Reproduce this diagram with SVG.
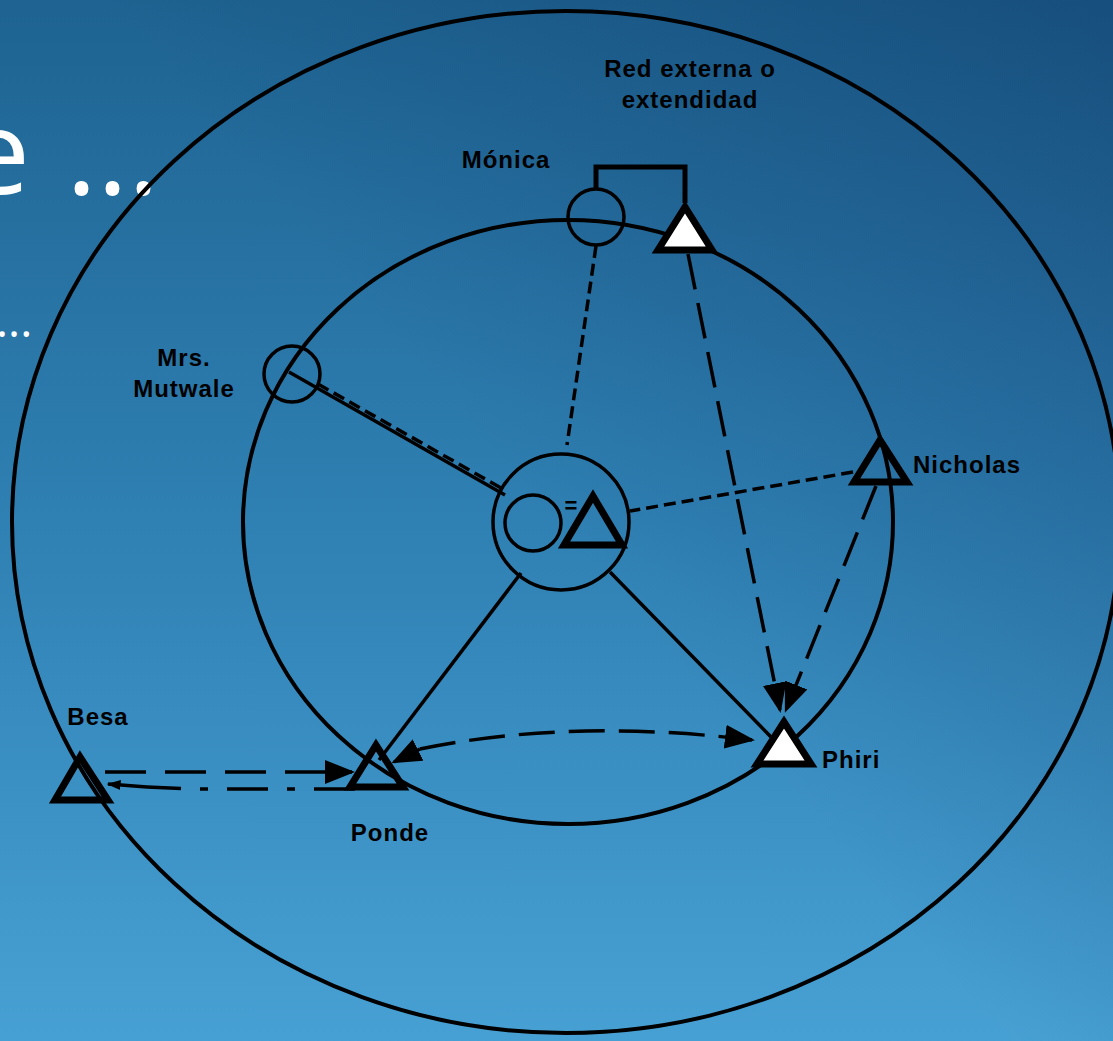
<svg xmlns="http://www.w3.org/2000/svg" width="1113" height="1041" viewBox="0 0 1113 1041">
<defs>
<linearGradient id="bg" x1="0" y1="0" x2="0" y2="1">
<stop offset="0" stop-color="#1e6391"/>
<stop offset="0.5" stop-color="#2f80b3"/>
<stop offset="1" stop-color="#47a0d3"/>
</linearGradient>
<linearGradient id="bg2" x1="0.45" y1="0.45" x2="1" y2="0">
<stop offset="0" stop-color="#0a2a5a" stop-opacity="0"/>
<stop offset="1" stop-color="#0a2a5a" stop-opacity="0.35"/>
</linearGradient>
<marker id="arrL" viewBox="0 0 10 10" refX="9" refY="5" markerWidth="30" markerHeight="24" markerUnits="userSpaceOnUse" orient="auto" preserveAspectRatio="none">
<path d="M0,0 L10,5 L0,10 z" fill="#000"/>
</marker>
<marker id="arrS" viewBox="0 0 10 10" refX="9" refY="5" markerWidth="14" markerHeight="10" markerUnits="userSpaceOnUse" orient="auto" preserveAspectRatio="none">
<path d="M0,0 L10,5 L0,10 z" fill="#000"/>
</marker>
</defs>
<style>
.ring{fill:none;stroke:#000;stroke-width:4}
.circ{fill:none;stroke:#000;stroke-width:3.5}
.tri{fill:none;stroke:#000;stroke-width:7;stroke-linejoin:miter}
.triw{fill:#fff;stroke:#000;stroke-width:7;stroke-linejoin:miter}
.lbl{font-family:"Liberation Sans",Arial,sans-serif;font-weight:bold;font-size:24px;letter-spacing:1px;fill:#000}
.solid{fill:none;stroke:#000;stroke-width:3.5}
.dash{fill:none;stroke:#000;stroke-width:3.5;stroke-dasharray:12 6}
.long{fill:none;stroke:#000;stroke-width:3.5;stroke-dasharray:36 14}
.bgtxt{font-family:"Open Sans","Noto Sans",sans-serif;fill:#fff}
</style>
<rect width="1113" height="1041" fill="url(#bg)"/>
<rect width="1113" height="1041" fill="url(#bg2)"/>
<text class="bgtxt" x="30" y="194" font-size="118" text-anchor="end">e</text>
<text class="bgtxt" x="66" y="194" font-size="118">...</text>
<text class="bgtxt" x="-4" y="337" font-size="46">...</text>

<g id="rings">
<ellipse class="ring" cx="566" cy="522" rx="554" ry="511"/>
<ellipse class="ring" cx="568" cy="522" rx="325" ry="302"/>
</g>

<g id="connectors">
<path class="dash" d="M596,246 L567,445"/>
<path class="solid" d="M289,372 L505,495"/>
<path class="dash" d="M318,384 L501,488"/>
<path class="dash" d="M853,472 L630,511"/>
<path class="solid" d="M521,573 L379,760"/>
<path class="solid" d="M610,572 L771,737"/>
<path class="long" d="M688,254 L780,710" marker-end="url(#arrL)"/>
<path class="long" d="M876,486 L786,710" marker-end="url(#arrL)"/>
<path class="long" d="M420,749 Q570,718 752,740" marker-end="url(#arrL)"/>
<path class="solid" d="M420,749 L394,762" marker-end="url(#arrL)"/>
<path fill="none" stroke="#000" stroke-width="3.5" stroke-dasharray="41 19" d="M105,772 L352,772" marker-end="url(#arrL)"/>
<path fill="none" stroke="#000" stroke-width="3.5" stroke-dasharray="41 19 8 19" d="M355,789 L194,789 L147,787"/>
<path fill="none" stroke="#000" stroke-width="3.5" d="M147,787 L108,784" marker-end="url(#arrS)"/>
<path fill="none" stroke="#000" stroke-width="5" d="M596,189 L596,167 L685,167 L685,203"/>
</g>

<g id="ego">
<circle class="circ" cx="561" cy="522" r="68"/>
<circle class="circ" cx="533" cy="523" r="28"/>
<path class="tri" d="M593,496 L564,545 L622,545 z"/>
<text x="571" y="513" font-family="Liberation Sans,Arial,sans-serif" font-weight="bold" font-size="22" text-anchor="middle">=</text>
</g>

<g id="monica">
<circle class="circ" cx="596" cy="217" r="28"/>
<text class="lbl" x="506" y="168" text-anchor="middle">Mónica</text>
</g>

<g id="red-externa">
<path class="triw" d="M685,207 L658,250 L712,250 z"/>
<text class="lbl" x="690" y="77" text-anchor="middle">Red externa o</text>
<text class="lbl" x="690" y="108" text-anchor="middle">extendidad</text>
</g>

<g id="mutwale">
<circle class="circ" cx="292" cy="374" r="28"/>
<text class="lbl" x="184" y="366" text-anchor="middle">Mrs.</text>
<text class="lbl" x="184" y="397" text-anchor="middle">Mutwale</text>
</g>

<g id="nicholas">
<path class="tri" d="M880,440 L854,482 L907,482 z"/>
<text class="lbl" x="913" y="473">Nicholas</text>
</g>

<g id="phiri">
<path class="triw" d="M784,722 L757,764 L811,764 z"/>
<text class="lbl" x="822" y="768">Phiri</text>
</g>

<g id="ponde">
<path class="tri" d="M376,745 L350,787 L403,787 z"/>
<text class="lbl" x="390" y="841" text-anchor="middle">Ponde</text>
</g>

<g id="besa">
<path class="tri" d="M80,757 L55,800 L108,800 z"/>
<text class="lbl" x="98" y="725" text-anchor="middle">Besa</text>
</g>
</svg>
